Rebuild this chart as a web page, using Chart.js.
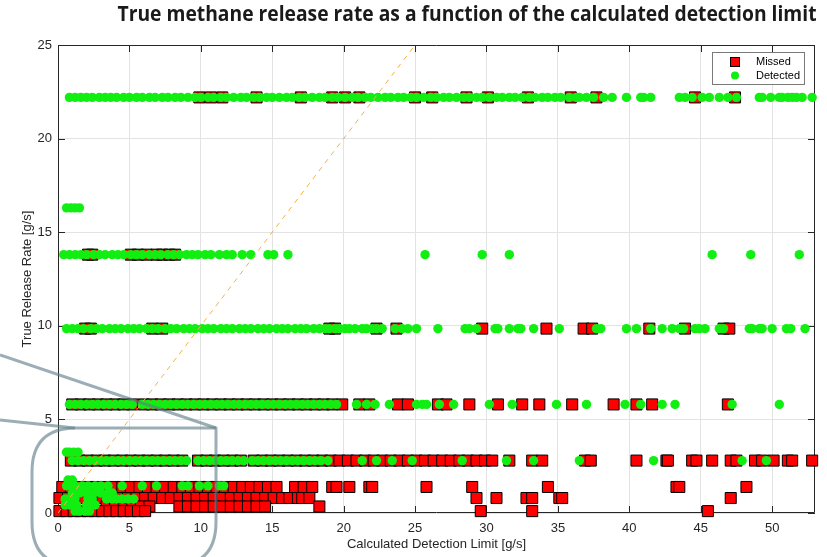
<!DOCTYPE html>
<html>
<head>
<meta charset="utf-8">
<script src="https://cdn.jsdelivr.net/npm/chart.js@4/dist/chart.umd.min.js"></script>
<style>
  html, body { margin: 0; padding: 0; background: #ffffff; }
  #wrap { width: 827px; height: 557px; position: relative; }
</style>
</head>
<body>
<div id="wrap"><canvas id="c" width="827" height="557"></canvas></div>
<script>
// ---------------- DATA ----------------
const chartTitle = 'True methane release rate as a function of the calculated detection limit';
const xTitle = 'Calculated Detection Limit [g/s]';
const yTitle = 'True Release Rate [g/s]';
const xTickValues = [0, 5, 10, 15, 20, 25, 30, 35, 40, 45, 50];
const yTickValues = [0, 5, 10, 15, 20, 25];
const oneToOne = [0, 25];

// Missed (red squares): x = calculated detection limit, grouped by true release rate
const missedRates = [22.2, 13.8, 9.85, 5.8, 2.8, 1.39, 0.8, 0.35, 0.1];
const missed_22_2 = [9.9, 10.7, 11.5, 13.9, 17.0, 19.2, 20.1, 21.1, 25.0, 26.2, 28.6, 30.1, 32.9, 35.9, 37.7, 44.6, 47.4];
const missed_13_8 = [2.1, 2.4, 5.1, 5.6, 6.2, 6.9, 7.3, 7.8, 8.2];
const missed_9_85 = [1.9, 2.3, 6.6, 7.3, 19.0, 19.4, 22.3, 23.7, 29.7, 34.2, 36.8, 37.4, 41.4, 43.9, 46.6, 47.0];
const missed_5_8 = [1.0, 1.6, 2.2, 2.8, 3.4, 4.0, 4.6, 5.2, 6.0, 6.6, 7.2, 7.8, 8.4, 9.0, 9.6, 10.2, 10.8, 11.4, 12.0, 12.6, 13.2, 13.8, 14.4, 15.0, 15.6, 16.2, 16.8, 17.4, 18.0, 18.6, 19.2, 19.9, 21.1, 21.8, 23.8, 24.5, 26.6, 27.2, 28.8, 30.8, 32.5, 33.7, 36.0, 38.9, 40.5, 41.6, 46.9];
const missed_2_8 = [0.9, 1.5, 2.1, 2.7, 3.3, 3.9, 4.5, 5.1, 5.7, 6.3, 6.9, 7.5, 8.1, 8.7, 9.8, 10.4, 11.0, 11.6, 12.2, 12.8, 13.7, 14.3, 14.9, 15.5, 16.1, 16.7, 17.3, 17.9, 18.5, 19.1, 19.7, 20.3, 20.9, 21.5, 22.1, 22.7, 23.3, 23.9, 24.5, 25.1, 25.7, 26.3, 26.9, 27.5, 28.1, 28.7, 29.3, 29.9, 30.4, 31.6, 33.2, 33.9, 36.9, 37.3, 40.5, 42.6, 42.7, 44.4, 44.7, 45.8, 47.1, 47.5, 48.8, 49.3, 50.1, 51.1, 51.4, 52.8];
const missed_1_39 = [0.3, 0.9, 1.5, 2.1, 2.7, 3.3, 3.9, 4.5, 5.1, 5.7, 6.3, 6.9, 7.5, 8.1, 8.7, 9.3, 9.9, 10.5, 11.1, 11.7, 12.3, 12.9, 13.5, 14.1, 14.7, 15.3, 16.6, 17.2, 17.8, 19.2, 19.5, 20.4, 21.8, 22.0, 25.8, 29.0, 34.3, 43.3, 43.5, 48.2];
const missed_0_8 = [0.1, 0.7, 1.3, 1.9, 2.5, 3.1, 3.7, 4.3, 4.9, 5.5, 6.1, 6.7, 7.3, 7.9, 8.5, 9.1, 9.7, 10.3, 10.9, 11.5, 12.1, 12.7, 13.3, 13.9, 14.5, 15.1, 15.7, 16.2, 16.8, 17.1, 17.6, 29.3, 30.7, 32.8, 33.2, 35.1, 35.3, 47.1];
const missed_0_35 = [3.4, 4.0, 4.6, 5.2, 5.8, 6.4, 8.5, 9.1, 9.7, 10.3, 10.9, 11.5, 12.1, 12.7, 13.3, 13.9, 14.5, 18.3];
const missed_0_1 = [0.1, 0.6, 1.1, 1.6, 2.1, 2.6, 3.1, 3.6, 4.1, 4.6, 5.1, 5.6, 6.1, 29.6, 33.2, 45.5];

// Detected (green circles)
const detectedRates = [22.2, 16.3, 13.8, 9.85, 5.8, 3.25, 2.8, 1.76, 1.45, 1.07, 0.75, 0.43, 0.1];
const detected_22_2 = [0.8, 1.2, 1.6, 2.0, 2.4, 2.9, 3.3, 3.7, 4.1, 4.6, 5.0, 5.5, 5.9, 6.4, 6.8, 7.3, 7.7, 8.2, 8.6, 9.1, 9.6, 10.0, 10.5, 10.9, 11.4, 11.8, 12.3, 12.8, 13.2, 13.7, 14.1, 14.6, 15.0, 15.5, 16.0, 16.4, 16.9, 17.3, 17.8, 18.3, 18.7, 19.2, 19.6, 20.1, 20.6, 21.0, 21.5, 21.9, 22.4, 22.9, 23.3, 23.8, 24.2, 24.7, 25.1, 25.6, 26.1, 26.5, 27.0, 27.4, 27.9, 28.4, 28.8, 29.3, 29.7, 30.2, 30.7, 31.1, 31.6, 32.0, 32.5, 33.0, 33.4, 33.9, 34.3, 34.8, 35.2, 35.8, 36.3, 36.5, 37.0, 37.5, 38.2, 38.8, 39.8, 40.8, 41.0, 41.5, 43.5, 43.9, 44.4, 45.1, 45.6, 46.3, 46.9, 47.5, 49.1, 49.3, 49.9, 50.5, 50.7, 51.1, 51.4, 51.7, 52.1, 52.8];
const detected_16_3 = [0.6, 0.9, 1.2, 1.5];
const detected_13_8 = [0.4, 0.8, 1.2, 1.6, 2.0, 2.5, 2.9, 3.3, 3.8, 4.2, 4.6, 5.1, 5.5, 5.9, 6.4, 6.8, 7.2, 7.7, 8.1, 8.5, 9.0, 9.4, 9.8, 10.3, 10.7, 11.3, 11.8, 12.2, 12.9, 13.5, 14.7, 15.1, 16.1, 25.7, 29.7, 31.6, 45.8, 48.5, 51.9];
const detected_9_85 = [0.6, 1.0, 1.4, 1.8, 2.3, 2.7, 3.1, 3.6, 4.0, 4.4, 4.9, 5.3, 5.7, 6.2, 6.6, 7.0, 7.5, 7.9, 8.3, 8.8, 9.2, 9.6, 10.1, 10.5, 10.9, 11.4, 11.8, 12.2, 12.7, 13.1, 13.5, 14.0, 14.4, 14.8, 15.3, 15.7, 16.1, 16.6, 17.0, 17.4, 17.9, 18.3, 18.7, 19.0, 19.4, 19.7, 20.1, 20.4, 20.8, 21.3, 21.6, 22.0, 22.3, 22.7, 23.6, 24.1, 24.5, 25.1, 26.6, 28.5, 28.8, 29.3, 30.6, 30.8, 31.6, 32.2, 32.4, 33.3, 35.1, 37.7, 38.0, 39.8, 40.5, 41.5, 42.3, 43.0, 43.5, 43.8, 44.6, 44.9, 45.3, 46.3, 46.6, 48.4, 48.6, 49.1, 49.3, 50.0, 51.0, 51.3, 52.3];
const detected_5_8 = [0.8, 1.2, 1.6, 2.0, 2.4, 2.8, 3.2, 3.6, 4.0, 4.4, 4.8, 5.2, 5.9, 6.3, 6.7, 7.1, 7.5, 7.9, 8.3, 8.7, 9.1, 9.5, 9.9, 10.3, 10.7, 11.1, 11.5, 11.9, 12.3, 12.7, 13.1, 13.5, 13.9, 14.3, 14.7, 15.1, 15.5, 15.9, 16.3, 16.7, 17.1, 17.5, 17.9, 18.3, 18.7, 19.1, 19.5, 20.9, 21.6, 22.2, 23.2, 25.1, 25.5, 25.8, 26.7, 27.7, 30.2, 31.8, 34.9, 37.0, 39.7, 40.8, 42.3, 43.2, 47.2, 50.5];
const detected_3_25 = [0.6, 0.8, 1.1, 1.4];
const detected_2_8 = [1.0, 1.4, 1.8, 2.2, 2.6, 3.0, 3.4, 3.8, 4.2, 4.6, 5.0, 5.4, 5.8, 6.2, 6.6, 7.0, 7.4, 7.8, 8.2, 8.6, 9.0, 9.8, 10.2, 10.6, 11.0, 11.4, 11.8, 12.2, 12.6, 13.0, 13.6, 14.0, 14.4, 14.8, 15.2, 15.6, 16.0, 16.4, 16.8, 17.2, 17.6, 18.0, 18.4, 18.9, 21.3, 22.3, 23.4, 24.8, 28.3, 31.4, 33.3, 36.5, 41.7, 47.9, 49.6];
const detected_1_76 = [0.7, 1.0];
const detected_1_45 = [0.6, 0.9, 1.2, 1.7, 2.1, 2.6, 3.0, 3.5, 4.5, 5.9, 6.9, 8.7, 9.1, 9.9, 10.5, 11.3, 11.6];
const detected_1_07 = [1.0, 1.5, 2.0, 2.5, 3.0, 3.5, 3.8];
const detected_0_75 = [0.5, 0.8, 1.2, 2.1, 2.4, 3.4, 3.8, 4.1, 4.5, 4.9, 5.3];
const detected_0_43 = [0.5, 0.8, 1.3, 2.0, 2.4, 2.6];
const detected_0_1 = [1.2, 1.5, 1.9, 2.2];

// ---------------- BUILD ----------------
const missedGroups = [missed_22_2, missed_13_8, missed_9_85, missed_5_8, missed_2_8, missed_1_39, missed_0_8, missed_0_35, missed_0_1];
const detectedGroups = [detected_22_2, detected_16_3, detected_13_8, detected_9_85, detected_5_8, detected_3_25, detected_2_8, detected_1_76, detected_1_45, detected_1_07, detected_0_75, detected_0_43, detected_0_1];
function toPoints(rates, groups) {
  const pts = [];
  groups.forEach((xs, i) => xs.forEach(x => pts.push({ x: x, y: rates[i] })));
  return pts;
}
const missedPoints = toPoints(missedRates, missedGroups);
const detectedPoints = toPoints(detectedRates, detectedGroups);
const linePoints = oneToOne.map(v => ({ x: v, y: v }));

const TXT = '#262626';
const FONT = '"Liberation Sans", Arial, Helvetica, sans-serif';

const decorPlugin = {
  id: 'decor',
  beforeDatasetsDraw(chart) {
    const { ctx, chartArea: a, scales } = chart;
    ctx.save();
    ctx.strokeStyle = TXT;
    ctx.lineWidth = 1;
    ctx.beginPath();
    ctx.rect(a.left + 0.5, a.top + 0.5, a.right - a.left - 1, a.bottom - a.top - 1);
    ctx.stroke();
    const tl = 7;
    ctx.beginPath();
    xTickValues.forEach(v => {
      const px = Math.round(scales.x.getPixelForValue(v)) + 0.5;
      ctx.moveTo(px, a.bottom); ctx.lineTo(px, a.bottom - tl);
      ctx.moveTo(px, a.top); ctx.lineTo(px, a.top + tl);
    });
    yTickValues.forEach(v => {
      const py = Math.round(scales.y.getPixelForValue(v)) + 0.5;
      ctx.moveTo(a.left, py); ctx.lineTo(a.left + tl, py);
      ctx.moveTo(a.right, py); ctx.lineTo(a.right - tl, py);
    });
    ctx.stroke();
    ctx.restore();
  },
  afterDraw(chart) {
    const { ctx } = chart;
    ctx.save();
    // Title
    ctx.fillStyle = '#1a1a1a';
    ctx.font = 'bold 20px "Open Sans", "Noto Sans", sans-serif';
    ctx.textAlign = 'center';
    ctx.textBaseline = 'middle';
    const w = ctx.measureText(chartTitle).width;
    ctx.translate(467, 15.5);
    ctx.scale(699 / w, 1.05);
    ctx.fillText(chartTitle, 0, 0);
    ctx.restore();

    // Legend
    ctx.save();
    ctx.fillStyle = '#ffffff';
    ctx.fillRect(712, 52, 93, 33);
    ctx.strokeStyle = '#7a7a7a';
    ctx.lineWidth = 1;
    ctx.strokeRect(712.5, 52.5, 92, 32);
    ctx.fillStyle = '#ff0000';
    ctx.fillRect(730, 57, 9, 9);
    ctx.strokeStyle = '#000';
    ctx.strokeRect(730.5, 57.5, 9, 9);
    ctx.fillStyle = '#11ee11';
    ctx.beginPath(); ctx.arc(735, 75.5, 4, 0, Math.PI * 2); ctx.fill();
    ctx.fillStyle = '#000';
    ctx.font = '11px ' + FONT;
    ctx.textAlign = 'left';
    ctx.textBaseline = 'middle';
    ctx.fillText(chart.data.datasets[0].label, 756, 62);
    ctx.fillText(chart.data.datasets[1].label, 756, 76);
    ctx.restore();

    // Callout overlay
    ctx.save();
    ctx.strokeStyle = 'rgba(95,125,135,0.62)';
    ctx.lineWidth = 3;
    ctx.lineJoin = 'round';
    ctx.beginPath();
    ctx.moveTo(0, 355); ctx.lineTo(216, 428);
    ctx.moveTo(0, 420); ctx.lineTo(75, 428);
    ctx.stroke();
    ctx.beginPath();
    const L = 32, T = 428, R = 216, B = 566, r = 44;
    ctx.moveTo(L + r, T);
    ctx.lineTo(R, T);
    ctx.lineTo(R, B - r);
    ctx.quadraticCurveTo(R, B, R - r, B);
    ctx.lineTo(L + r, B);
    ctx.quadraticCurveTo(L, B, L, B - r);
    ctx.lineTo(L, T + r);
    ctx.quadraticCurveTo(L, T, L + r, T);
    ctx.stroke();
    ctx.restore();
  }
};

new Chart(document.getElementById('c'), {
  data: {
    datasets: [
      {
        type: 'scatter', label: 'Missed', data: missedPoints,
        pointStyle: 'rect', pointRadius: 7.8, backgroundColor: '#ff0000',
        borderColor: '#000000', borderWidth: 1, order: 2, clip: false
      },
      {
        type: 'scatter', label: 'Detected', data: detectedPoints,
        pointStyle: 'circle', pointRadius: 4.7, backgroundColor: '#11ee11',
        borderColor: '#11ee11', borderWidth: 0, order: 1, clip: false
      },
      {
        type: 'line', label: '1:1', data: linePoints,
        borderColor: '#efb24a', borderWidth: 1, borderDash: [5, 5],
        pointRadius: 0, fill: false, order: 0
      }
    ]
  },
  options: {
    responsive: false,
    animation: false,
    events: [],
    layout: { padding: { left: 10, right: 12, top: 45, bottom: 0 } },
    plugins: { legend: { display: false }, title: { display: false }, tooltip: { enabled: false } },
    scales: {
      x: {
        type: 'linear', min: 0, max: 53,
        afterBuildTicks: s => { s.ticks = xTickValues.map(v => ({ value: v })); },
        afterFit: s => { s.height = 44; },
        ticks: { color: TXT, font: { family: FONT, size: 13 }, padding: 8, maxRotation: 0 },
        grid: { color: '#e3e3e3', drawTicks: false },
        border: { display: false },
        title: { display: true, text: xTitle, color: TXT, font: { family: FONT, size: 13 }, padding: { top: 5, bottom: 5 } }
      },
      y: {
        type: 'linear', min: 0, max: 25,
        afterBuildTicks: s => { s.ticks = yTickValues.map(v => ({ value: v })); },
        afterFit: s => { s.width = 48; },
        ticks: { color: TXT, font: { family: FONT, size: 13 }, padding: 6 },
        grid: { color: '#e3e3e3', drawTicks: false },
        border: { display: false },
        title: { display: true, text: yTitle, color: TXT, font: { family: FONT, size: 13 }, padding: { top: 10, bottom: 0 } }
      }
    }
  },
  plugins: [decorPlugin]
});
</script>
</body>
</html>
